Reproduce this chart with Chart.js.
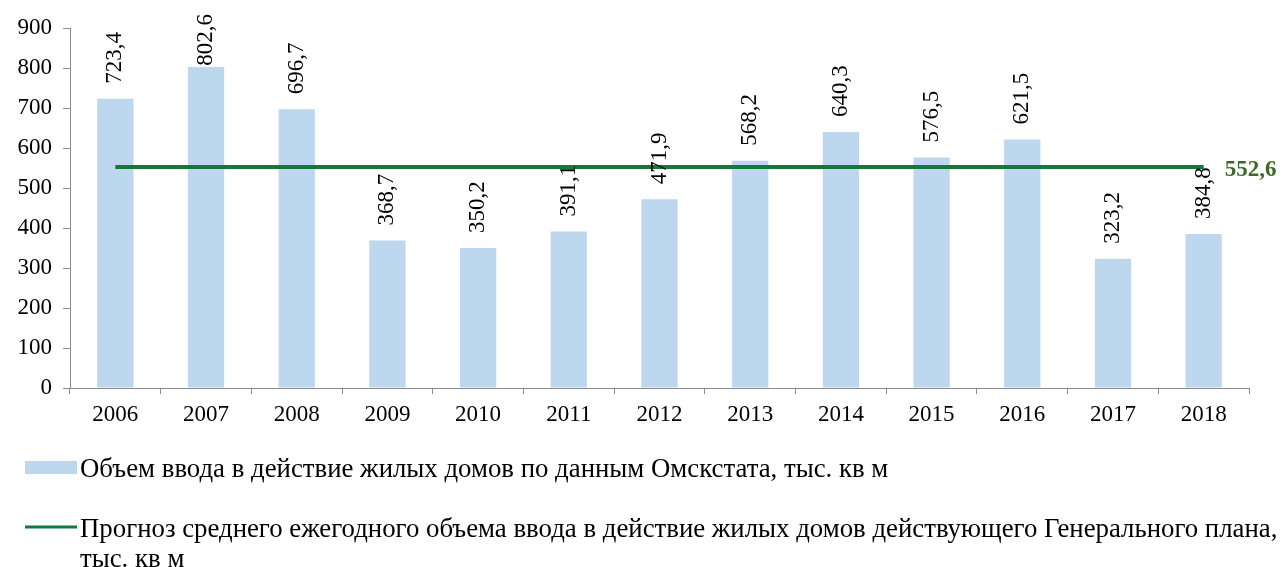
<!DOCTYPE html>
<html>
<head>
<meta charset="utf-8">
<script src="https://cdn.jsdelivr.net/npm/chart.js@4"></script>
<style>
  html, body { margin: 0; padding: 0; background: #fff; }
  #wrap { width: 1284px; height: 567px; position: relative; }
</style>
</head>
<body>
<div id="wrap"><canvas id="chart"></canvas></div>
<script>
// data
const years = ['2006', '2007', '2008', '2009', '2010', '2011', '2012', '2013', '2014', '2015', '2016', '2017', '2018'];
const builtVolume = [723.4, 802.6, 696.7, 368.7, 350.2, 391.1, 471.9, 568.2, 640.3, 576.5, 621.5, 323.2, 384.8];
const planAverage = [552.6, 552.6, 552.6, 552.6, 552.6, 552.6, 552.6, 552.6, 552.6, 552.6, 552.6, 552.6, 552.6];
const yTicks = [0, 100, 200, 300, 400, 500, 600, 700, 800, 900];
const barLabel = 'Объем ввода в действие жилых домов по данным Омскстата, тыс. кв м';
const lineLabel = 'Прогноз среднего ежегодного объема ввода в действие жилых домов действующего Генерального плана, тыс. кв м';

const FONT = '"Liberation Serif", "Times New Roman", serif';
const BAR_COLOR = '#bdd7ee';
const LINE_COLOR = '#11793a';
const AXIS_COLOR = '#8c8c8c';

function fmt(v) {
    return v.toFixed(1).replace('.', ',');
}

// rotated value labels above the bars + label at the end of the line
const valueLabels = {
    id: 'valueLabels',
    afterDatasetsDraw(chart) {
        const ctx = chart.ctx;
        const barMeta = chart.getDatasetMeta(0);
        ctx.save();
        ctx.font = '23px ' + FONT;
        ctx.fillStyle = '#000';
        ctx.textBaseline = 'middle';
        ctx.textAlign = 'left';
        barMeta.data.forEach((bar, i) => {
            const text = fmt(builtVolume[i]);
            const w = ctx.measureText(text).width;
            let bottom = bar.y - 15;
            if (bottom - w < 14) bottom = 14 + w;
            ctx.save();
            ctx.translate(bar.x, bottom);
            ctx.rotate(-Math.PI / 2);
            ctx.fillText(text, 0, 0);
            ctx.restore();
        });

        const lineMeta = chart.getDatasetMeta(1);
        const last = lineMeta.data[lineMeta.data.length - 1];
        ctx.font = 'bold 23px ' + FONT;
        ctx.fillStyle = '#3b6a29';
        ctx.fillText(fmt(planAverage[planAverage.length - 1]), last.x + 21, last.y + 3);
        ctx.restore();
    }
};

// legend drawn under the chart, with wrapping
const bottomLegend = {
    id: 'bottomLegend',
    afterDraw(chart) {
        const ctx = chart.ctx;
        const maxW = 1210;
        ctx.save();
        ctx.font = '26.8px ' + FONT;
        ctx.fillStyle = '#000';
        ctx.textBaseline = 'middle';
        ctx.textAlign = 'left';

        // bars
        ctx.fillStyle = BAR_COLOR;
        ctx.fillRect(25, 461, 52, 13);
        ctx.fillStyle = '#000';
        ctx.fillText(chart.data.datasets[0].label, 80, 470);

        // line
        ctx.strokeStyle = LINE_COLOR;
        ctx.lineWidth = 3;
        ctx.beginPath();
        ctx.moveTo(25, 527);
        ctx.lineTo(77, 527);
        ctx.stroke();

        const words = chart.data.datasets[1].label.split(' ');
        let lines = [];
        let cur = '';
        words.forEach(w => {
            const test = cur ? cur + ' ' + w : w;
            if (ctx.measureText(test).width > maxW && cur) {
                lines.push(cur);
                cur = w;
            } else {
                cur = test;
            }
        });
        lines.push(cur);
        lines.forEach((l, i) => ctx.fillText(l, 80, 530 + i * 30));
        ctx.restore();
    }
};

const ctx = document.getElementById('chart').getContext('2d');
const chart = new Chart(ctx, {
    type: 'bar',
    data: {
        labels: years,
        datasets: [{
            type: 'bar',
            label: barLabel,
            data: builtVolume,
            backgroundColor: BAR_COLOR,
            barPercentage: 0.8,
            categoryPercentage: 0.5,
            order: 2
        }, {
            type: 'line',
            label: lineLabel,
            data: planAverage,
            borderColor: LINE_COLOR,
            borderWidth: 4,
            pointRadius: 0,
            fill: false,
            tension: 0,
            order: 1
        }]
    },
    options: {
        responsive: true,
        maintainAspectRatio: false,
        animation: false,
        layout: {
            padding: { left: 0, right: 35, top: 28, bottom: 129 }
        },
        scales: {
            x: {
                offset: true,
                grid: {
                    display: true,
                    offset: true,
                    drawOnChartArea: false,
                    drawTicks: true,
                    tickLength: 6,
                    color: AXIS_COLOR
                },
                border: { display: true, color: AXIS_COLOR, width: 1 },
                ticks: {
                    color: '#000',
                    font: { family: FONT, size: 23 },
                    padding: 7,
                    maxRotation: 0
                },
                afterFit(scale) { scale.height = 50; }
            },
            y: {
                min: 0,
                max: 900,
                afterBuildTicks(scale) {
                    scale.ticks = yTicks.map(v => ({ value: v }));
                },
                grid: {
                    display: true,
                    drawOnChartArea: false,
                    drawTicks: true,
                    tickLength: 7,
                    color: AXIS_COLOR
                },
                border: { display: true, color: AXIS_COLOR, width: 1 },
                ticks: {
                    color: '#000',
                    font: { family: FONT, size: 23 },
                    padding: 11
                },
                afterFit(scale) { scale.width = 70; }
            }
        },
        plugins: {
            legend: { display: false },
            tooltip: { enabled: false }
        }
    },
    plugins: [valueLabels, bottomLegend]
});
</script>
</body>
</html>
